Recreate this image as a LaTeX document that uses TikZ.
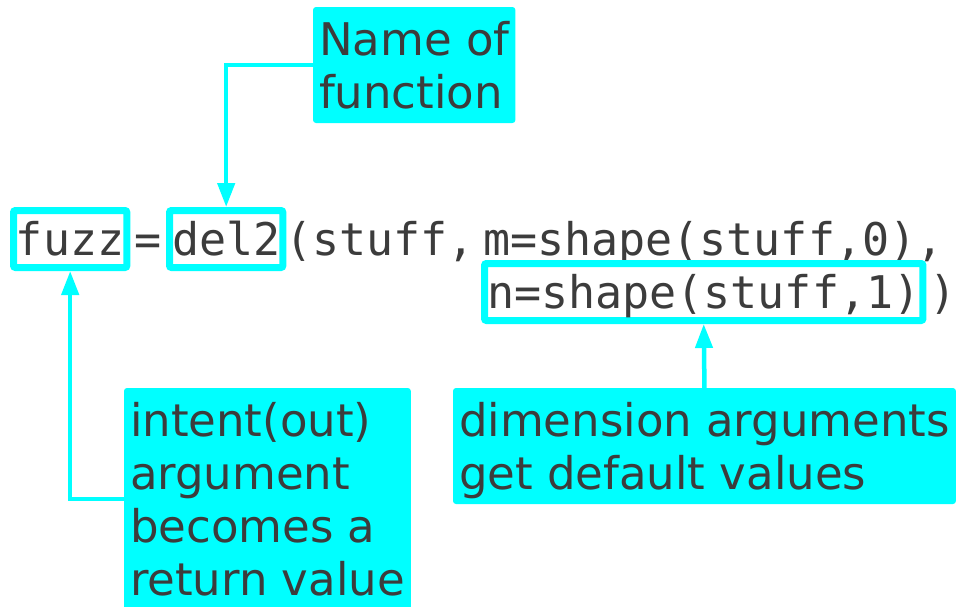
\documentclass[tikz,border=0pt]{standalone}
\usepackage{fontspec}
\setmainfont{DejaVu Sans}
\setmonofont{DejaVu Sans Mono}
\usetikzlibrary{arrows.meta, positioning}
\definecolor{ink}{HTML}{3C3C3C}
\definecolor{aqua}{HTML}{00FFFF}

\tikzset{
  code/.style={font=\fontsize{45}{53}\selectfont\ttfamily, text=ink, inner sep=0pt, outer sep=0pt},
  codebox/.style={code, draw=aqua, line width=7pt, rounded corners=2pt, inner xsep=2.5pt, inner ysep=3.5pt, outer sep=3.5pt, text height=41pt, text depth=9pt},
  callout/.style={font=\fontsize{45}{53}\selectfont, text=ink, fill=aqua, rounded corners=3pt, align=left, inner sep=6pt, outer sep=0pt, text depth=9pt, anchor=north west},
  arr/.style={draw=aqua, line width=4.5pt, -{Triangle[length=24pt,width=17pt]}}
}

\begin{document}
\begin{tikzpicture}[x=1pt, y=-1pt]

\fill[white] (0,0) rectangle (956,606);
\useasboundingbox (0,0) rectangle (956,606);

% the call
\node[codebox, anchor=base west] (fuzz) at (10,255) {fuzz};
\node[code, anchor=base west] (eq) at (134,255) {=};
\node[codebox, anchor=base west] (deltwo) at (166,255) {del2};
\node[code, anchor=base west] (stuff) at (285,255) {(stuff,};
\node[code, anchor=base west] (marg) at (483,255) {m=shape(stuff,0),};
\node[codebox, anchor=base west] (narg) at (481,308) {n=shape(stuff,1)};
\node[code, anchor=base west] (paren) at (929,308) {)};

% notes
\node[callout, text height=95pt] (fname) at (313,7) {Name of\\function};
\node[callout, text height=201pt] (intent) at (124,388) {intent(out)\\argument\\becomes a\\return value};
\node[callout, text height=95pt] (dimargs) at (453,388) {dimension arguments\\get default values};

\draw[arr] (fname.west) -| (deltwo.north);
\draw[arr] (intent.west) -| (fuzz.south);
\draw[arr] (dimargs.north) -- (narg.south);

\end{tikzpicture}
\end{document}
